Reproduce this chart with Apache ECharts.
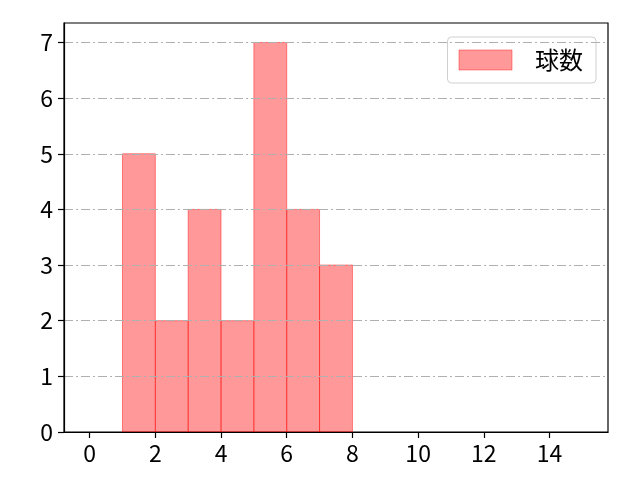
<!DOCTYPE html>
<html>
<head>
<meta charset="utf-8">
<script src="https://cdn.jsdelivr.net/npm/echarts@6/dist/echarts.min.js"></script>
<style>
  html, body { margin: 0; padding: 0; background: #fff; }
  #chart { width: 640px; height: 480px; }
</style>
</head>
<body>
<div id="chart"></div>
<script>
// histogram bins (left edge, right edge) and counts
var binStarts = [1, 2, 3, 4, 5, 6, 7];
var binEnds = [2, 3, 4, 5, 6, 7, 8];
var counts = [5, 2, 4, 2, 7, 4, 3];
var seriesName = '球数';

var xTicks = [0, 2, 4, 6, 8, 10, 12, 14];
var yTicks = [0, 1, 2, 3, 4, 5, 6, 7];

var font = 'Noto Sans CJK JP';

var data = [];
for (var i = 0; i < counts.length; i++) {
    data.push([binStarts[i], binEnds[i], counts[i]]);
}

var chart = echarts.init(document.getElementById('chart'));
var option = {
    animation: false,
    textStyle: { fontFamily: font },
    grid: {
        left: 64, right: 32, top: 23, bottom: 48,
        show: true, borderColor: '#000', borderWidth: 1.2,
        backgroundColor: 'transparent'
    },
    legend: {
        right: 44, top: 37,
        padding: [11, 13, 11, 11],
        borderColor: '#d0d0d0', borderWidth: 1, borderRadius: 4,
        itemWidth: 53, itemHeight: 20,
        textStyle: { fontFamily: font, fontSize: 24, color: '#000', padding: [0, 0, 0, 18] },
        data: [{
            name: seriesName, icon: 'rect',
            itemStyle: { color: 'rgba(255,0,0,0.4)', borderColor: 'rgba(255,0,0,0.4)', borderWidth: 1 }
        }]
    },
    xAxis: {
        type: 'value', min: -0.78, max: 15.78, z: 6,
        axisLine: { show: true, onZero: false, lineStyle: { color: '#000', width: 1.2 } },
        axisTick: { show: true, length: 6, customValues: xTicks, lineStyle: { color: '#000', width: 1.2 } },
        axisLabel: { customValues: xTicks, margin: 10, fontSize: 23, color: '#000', fontFamily: font },
        splitLine: { show: false }
    },
    yAxis: {
        type: 'value', min: 0, max: 7.35, z: 5,
        axisLine: { show: true, onZero: false, lineStyle: { color: '#000', width: 1.2 } },
        axisTick: { show: true, length: 6, customValues: yTicks, lineStyle: { color: '#000', width: 1.2 } },
        axisLabel: { customValues: yTicks, margin: 11, fontSize: 23, color: '#000', fontFamily: font },
        splitLine: { show: true, lineStyle: { color: '#b0b0b0', width: 1, type: [9, 3, 2, 3] } }
    },
    series: [{
        name: seriesName,
        type: 'custom',
        z: 2,
        itemStyle: { color: 'rgba(255,0,0,0.4)' },
        renderItem: function (params, api) {
            var p0 = api.coord([api.value(0), 0]);
            var p1 = api.coord([api.value(1), api.value(2)]);
            return {
                type: 'rect',
                shape: { x: p0[0], y: p1[1], width: p1[0] - p0[0], height: p0[1] - p1[1] },
                style: { fill: 'rgba(255,0,0,0.4)', stroke: 'rgba(255,0,0,0.45)', lineWidth: 1 }
            };
        },
        encode: { x: [0, 1], y: 2 },
        data: data
    }]
};
chart.setOption(option);
</script>
</body>
</html>
